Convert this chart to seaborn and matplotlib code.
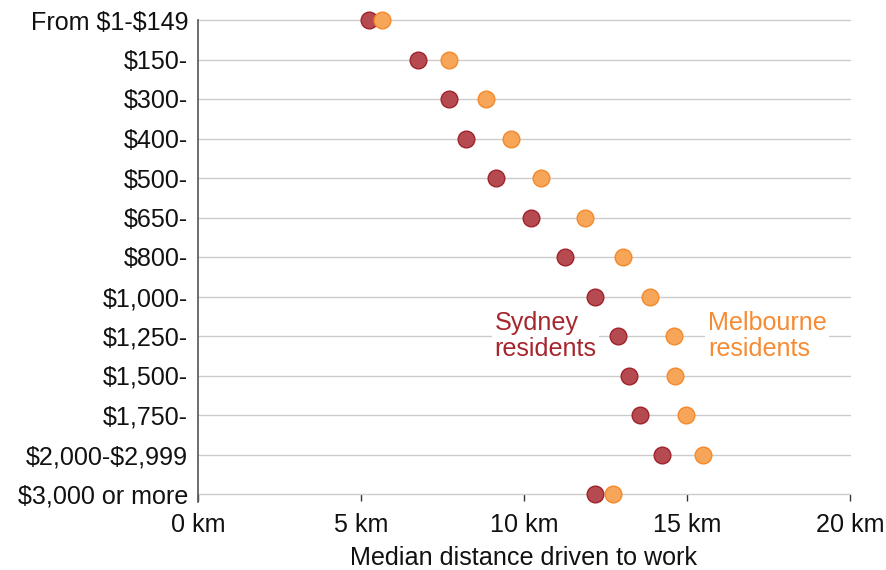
import matplotlib
matplotlib.use("Agg")
import matplotlib.pyplot as plt
import seaborn as sns
import pandas as pd

categories = ["From $1-$149", "$150-", "$300-", "$400-", "$500-", "$650-", "$800-",
              "$1,000-", "$1,250-", "$1,500-", "$1,750-", "$2,000-$2,999", "$3,000 or more"]
sydney = [5.25, 6.75, 7.70, 8.22, 9.14, 10.21, 11.26, 12.18, 12.88, 13.22, 13.56, 14.23, 12.18]
melbourne = [5.64, 7.70, 8.83, 9.60, 10.52, 11.87, 13.04, 13.87, 14.60, 14.63, 14.97, 15.49, 12.73]
xticks = [0, 5, 10, 15, 20]
xtick_labels = ["0 km", "5 km", "10 km", "15 km", "20 km"]

sns.set_style("white")
plt.rcParams["font.family"] = ["Liberation Sans", "DejaVu Sans"]
plt.rcParams["text.parse_math"] = False

FS = 18.1

syd_df = pd.DataFrame({"income": categories, "km": sydney})
mel_df = pd.DataFrame({"income": categories, "km": melbourne})

fig = plt.figure(figsize=(8.86, 5.70), dpi=100)
ax = fig.add_axes([198/886, 1-494/570, (850-198)/886, (494-20)/570])

sns.stripplot(data=syd_df, x="km", y="income", order=categories, jitter=False,
              color="#B54A50", edgecolor="#A0222B", linewidth=1.0, size=12,
              ax=ax, zorder=3)
sns.stripplot(data=mel_df, x="km", y="income", order=categories, jitter=False,
              color="#F7A558", edgecolor="#F5892A", linewidth=1.0, size=12,
              ax=ax, zorder=4)
for coll in ax.collections:
    coll.set_clip_on(False)

ax.set_xlim(0, 20)
ax.set_ylim(len(categories) - 1, 0)
ax.set_xticks(xticks)
ax.set_xticklabels(xtick_labels)
ax.yaxis.grid(True, color="#cccccc", linewidth=1.0)
ax.xaxis.grid(False)
ax.set_axisbelow(True)
for gl in ax.get_ygridlines():
    gl.set_clip_on(False)
for s in ["top", "right", "bottom"]:
    ax.spines[s].set_visible(False)
ax.spines["left"].set_color("#555555")
ax.spines["left"].set_linewidth(1.2)
ax.spines["left"].set_bounds(len(categories) - 1 + 0.2, 0)
ax.tick_params(axis="y", length=0, pad=7, labelsize=FS, labelcolor="#111111")
ax.tick_params(axis="x", direction="out", length=5, width=1, color="#333333",
               pad=9, labelsize=FS, labelcolor="#111111", bottom=True)
ax.set_xlabel("Median distance driven to work", fontsize=FS, color="#111111", labelpad=6)
ax.set_ylabel("")

ax.text(9.1, 8, "Sydney\nresidents", color="#A6262E", fontsize=FS, ha="left", va="center",
        linespacing=1.12, zorder=5,
        bbox=dict(facecolor="white", edgecolor="none", pad=2))
ax.text(15.64, 8, "Melbourne\nresidents", color="#F68B33", fontsize=FS, ha="left", va="center",
        linespacing=1.12, zorder=5,
        bbox=dict(facecolor="white", edgecolor="none", pad=2))

fig.savefig("out.png", dpi=100)
